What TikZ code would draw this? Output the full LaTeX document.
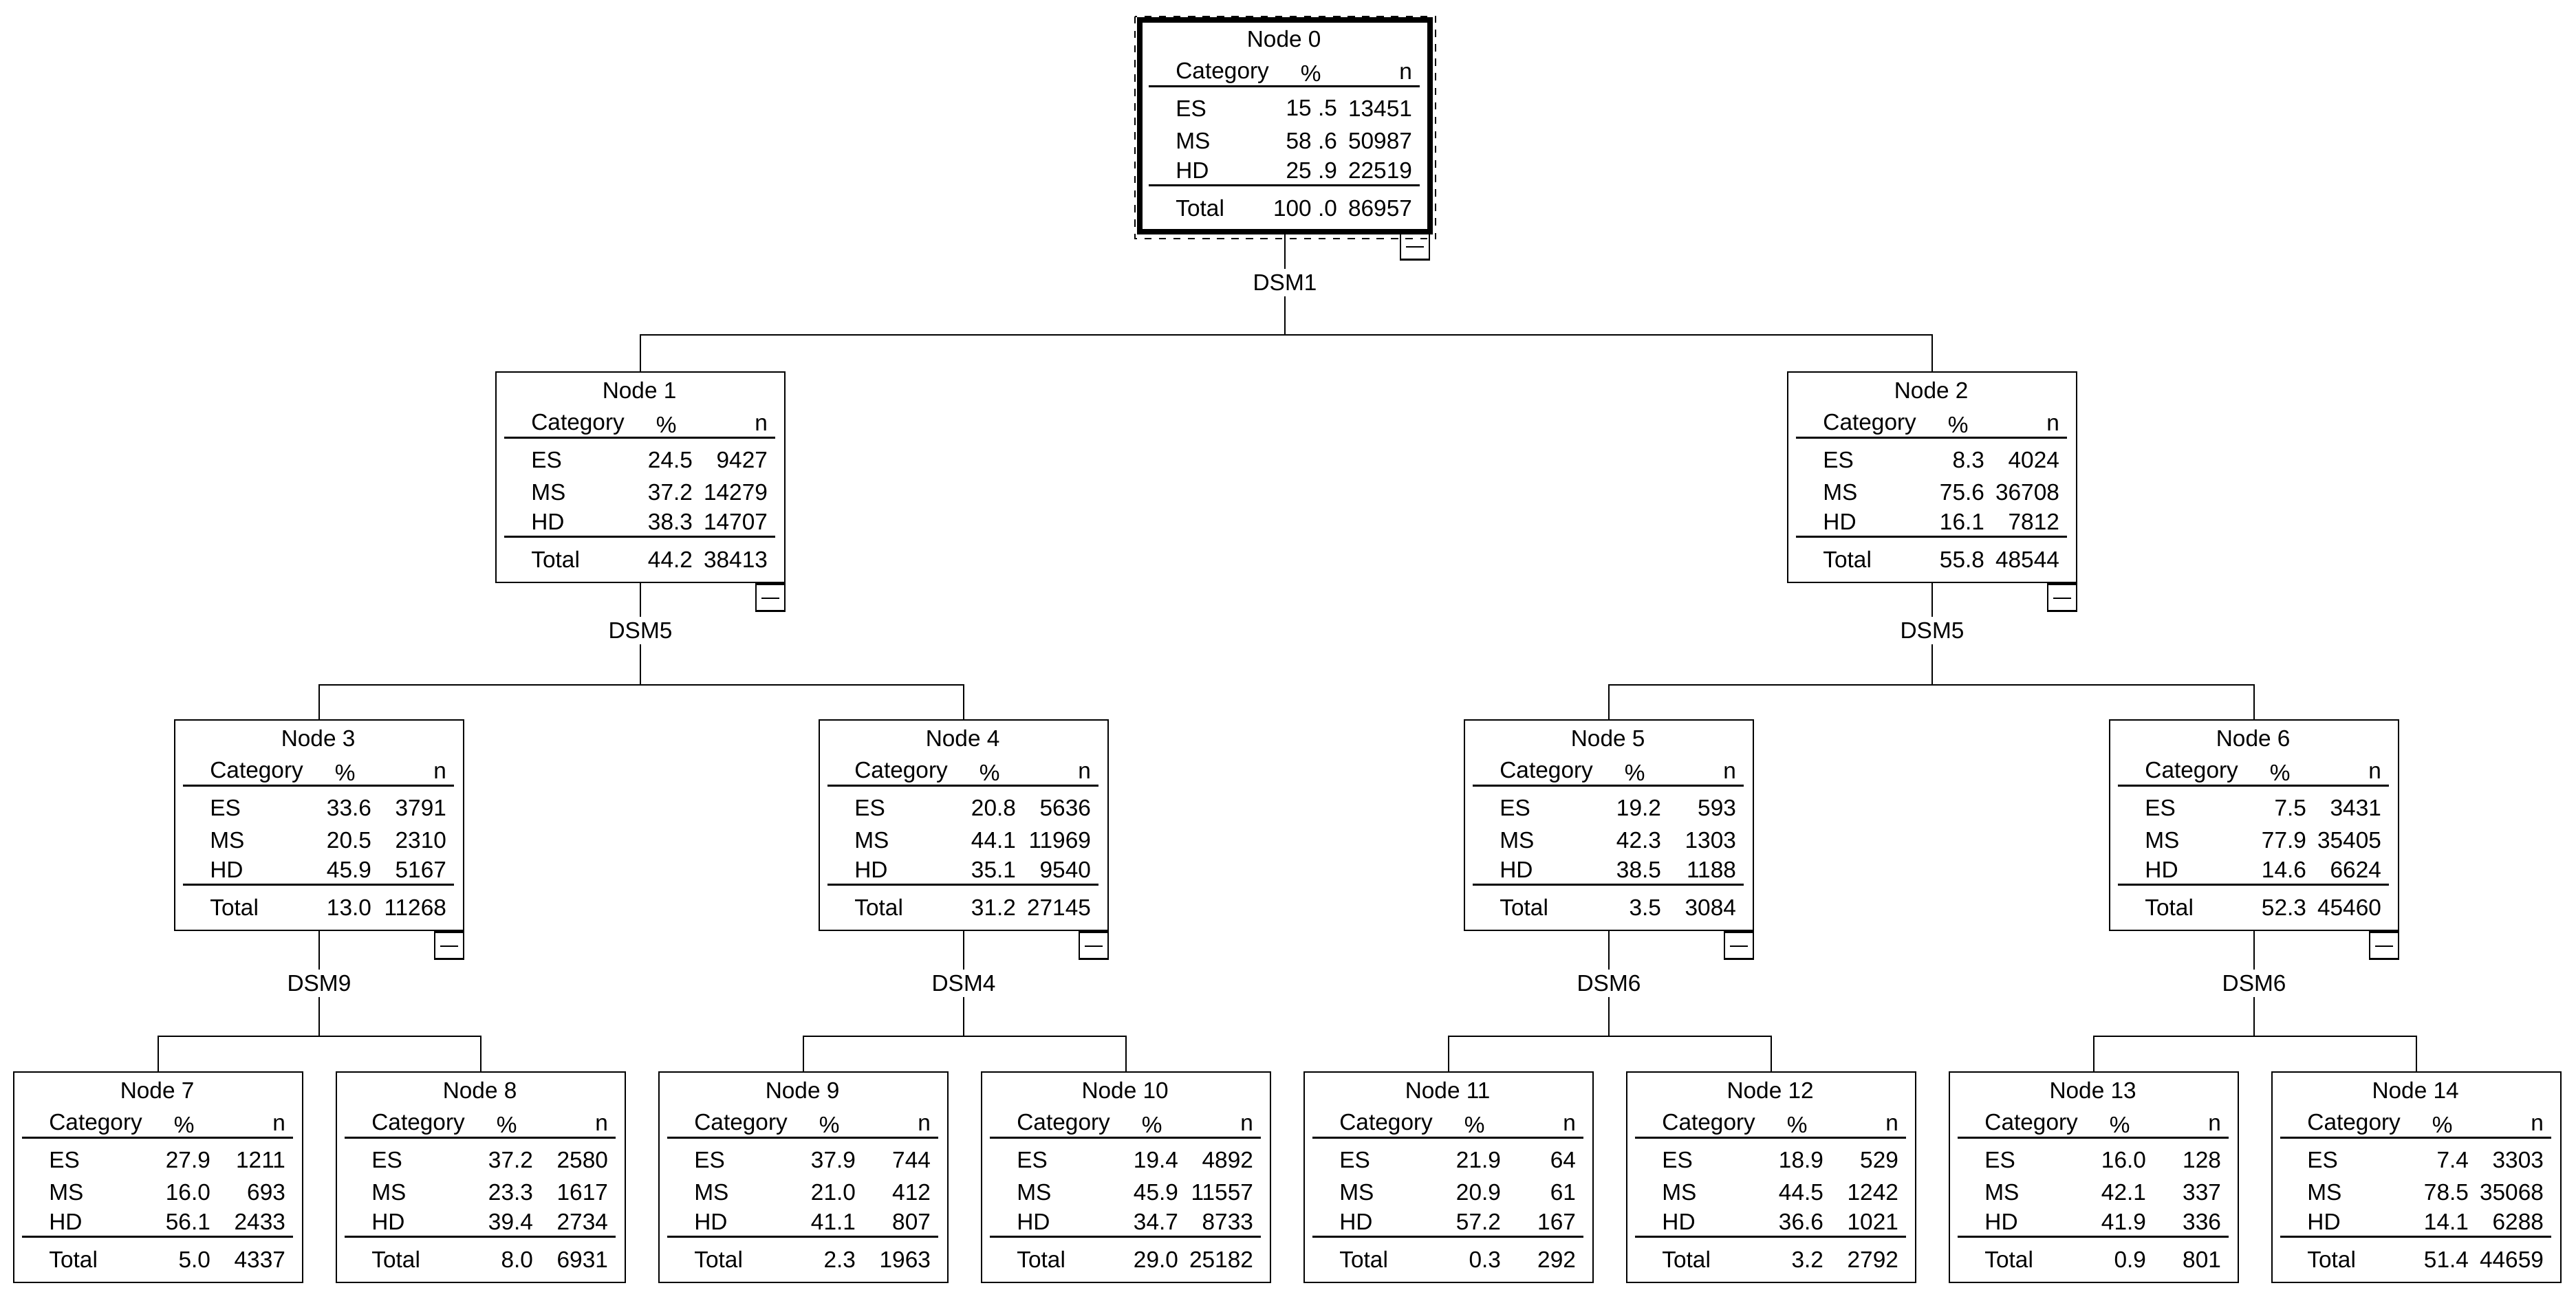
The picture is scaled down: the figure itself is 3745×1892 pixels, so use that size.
\documentclass[tikz,border=0pt]{standalone}
\usepackage{fontspec}
\setmainfont{Liberation Sans}
\begin{document}
\begin{tikzpicture}[x=0.01cm,y=0.01cm,
  box/.style={draw,line width=0.7pt,minimum width=4.2cm,minimum height=3.06cm,inner sep=0pt},
  txt/.style={inner sep=0pt,font=\fontsize{9.5pt}{11pt}\selectfont},
  lbl/.style={inner sep=2pt,font=\fontsize{9.5pt}{11pt}\selectfont},
  mbox/.style={draw,line width=0.7pt,minimum width=0.42cm,minimum height=0.39cm,inner sep=0pt,anchor=north east},
  conn/.style={line width=0.7pt}]
\useasboundingbox (0,0) rectangle (3745,-1892);
\newcommand\tnode[4]{%
  \node[box] (#1) at (#2,#3) {};
  \begin{scope}[shift={(#1.north west)}]
    \node[txt] at (210,-28) {#4};
    \node[txt,anchor=west] at (52,-78) {Category};
    \node[txt] at (249,-78) {\%};
    \node[txt,anchor=east] at (397,-78) {n};
    \draw[line width=0.7pt] (13,-97) -- (407,-97);
    \draw[line width=0.7pt] (13,-241) -- (407,-241);
    \node[txt,anchor=west] at (52,-129) {ES};
    \node[txt,anchor=west] at (52,-176) {MS};
    \node[txt,anchor=west] at (52,-219) {HD};
    \node[txt,anchor=west] at (52,-274) {Total};
  \end{scope}}
\newcommand\tvals[9]{%
  \begin{scope}[shift={(#1.north west)}]
    \node[txt,anchor=east] at (288,-129) {#2};
    \node[txt,anchor=east] at (397,-129) {#3};
    \node[txt,anchor=east] at (288,-176) {#4};
    \node[txt,anchor=east] at (397,-176) {#5};
    \node[txt,anchor=east] at (288,-219) {#6};
    \node[txt,anchor=east] at (397,-219) {#7};
    \node[txt,anchor=east] at (288,-274) {#8};
    \node[txt,anchor=east] at (397,-274) {#9};
  \end{scope}}
\newcommand\minusbox[1]{%
  \node[mbox] (#1m) at (#1.south east) {};
  \draw[line width=0.7pt] ([xshift=-0.09cm,yshift=0.2cm]#1m.south east) -- ([xshift=0.09cm,yshift=0.2cm]#1m.south west);}
% root
\tnode{n0}{1868}{-183}{Node 0}
\tvals{n0}{15 .5}{13451}{58 .6}{50987}{25 .9}{22519}{100 .0}{86957}
\draw[line width=2.3pt] (n0.south west) rectangle (n0.north east);
\draw[dashed,line width=0.6pt] ([shift={(-7,5)}]n0.north west) rectangle ([shift={(8,-10)}]n0.south east);
\minusbox{n0}
% level 1
\tnode{n1}{931}{-694}{Node 1}
\tvals{n1}{24.5}{9427}{37.2}{14279}{38.3}{14707}{44.2}{38413}
\minusbox{n1}
\tnode{n2}{2809}{-694}{Node 2}
\tvals{n2}{8.3}{4024}{75.6}{36708}{16.1}{7812}{55.8}{48544}
\minusbox{n2}
% level 2
\tnode{n3}{464}{-1200}{Node 3}
\tvals{n3}{33.6}{3791}{20.5}{2310}{45.9}{5167}{13.0}{11268}
\minusbox{n3}
\tnode{n4}{1401}{-1200}{Node 4}
\tvals{n4}{20.8}{5636}{44.1}{11969}{35.1}{9540}{31.2}{27145}
\minusbox{n4}
\tnode{n5}{2339}{-1200}{Node 5}
\tvals{n5}{19.2}{593}{42.3}{1303}{38.5}{1188}{3.5}{3084}
\minusbox{n5}
\tnode{n6}{3277}{-1200}{Node 6}
\tvals{n6}{7.5}{3431}{77.9}{35405}{14.6}{6624}{52.3}{45460}
\minusbox{n6}
% level 3
\tnode{n7}{230}{-1712}{Node 7}
\tvals{n7}{27.9}{1211}{16.0}{693}{56.1}{2433}{5.0}{4337}
\tnode{n8}{699}{-1712}{Node 8}
\tvals{n8}{37.2}{2580}{23.3}{1617}{39.4}{2734}{8.0}{6931}
\tnode{n9}{1168}{-1712}{Node 9}
\tvals{n9}{37.9}{744}{21.0}{412}{41.1}{807}{2.3}{1963}
\tnode{n10}{1637}{-1712}{Node 10}
\tvals{n10}{19.4}{4892}{45.9}{11557}{34.7}{8733}{29.0}{25182}
\tnode{n11}{2106}{-1712}{Node 11}
\tvals{n11}{21.9}{64}{20.9}{61}{57.2}{167}{0.3}{292}
\tnode{n12}{2575}{-1712}{Node 12}
\tvals{n12}{18.9}{529}{44.5}{1242}{36.6}{1021}{3.2}{2792}
\tnode{n13}{3044}{-1712}{Node 13}
\tvals{n13}{16.0}{128}{42.1}{337}{41.9}{336}{0.9}{801}
\tnode{n14}{3513}{-1712}{Node 14}
\tvals{n14}{7.4}{3303}{78.5}{35068}{14.1}{6288}{51.4}{44659}
% connectors
\node[lbl] (l0) at (1868,-411) {DSM1};
\coordinate (b0) at (1868,-487);
\draw[conn] (n0.south) -- (l0.north);
\draw[conn] (l0.south) -- (b0);
\draw[conn] (n1.north) |- (b0) -| (n2.north);
\node[lbl] (l1) at (931,-917) {DSM5};
\coordinate (b1) at (931,-996);
\draw[conn] (n1.south) -- (l1.north); \draw[conn] (l1.south) -- (b1);
\draw[conn] (n3.north) |- (b1) -| (n4.north);
\node[lbl] (l2) at (2809,-917) {DSM5};
\coordinate (b2) at (2809,-996);
\draw[conn] (n2.south) -- (l2.north); \draw[conn] (l2.south) -- (b2);
\draw[conn] (n5.north) |- (b2) -| (n6.north);
\node[lbl] (l3) at (464,-1430) {DSM9};
\coordinate (b3) at (464,-1507);
\draw[conn] (n3.south) -- (l3.north); \draw[conn] (l3.south) -- (b3);
\draw[conn] (n7.north) |- (b3) -| (n8.north);
\node[lbl] (l4) at (1401,-1430) {DSM4};
\coordinate (b4) at (1401,-1507);
\draw[conn] (n4.south) -- (l4.north); \draw[conn] (l4.south) -- (b4);
\draw[conn] (n9.north) |- (b4) -| (n10.north);
\node[lbl] (l5) at (2339,-1430) {DSM6};
\coordinate (b5) at (2339,-1507);
\draw[conn] (n5.south) -- (l5.north); \draw[conn] (l5.south) -- (b5);
\draw[conn] (n11.north) |- (b5) -| (n12.north);
\node[lbl] (l6) at (3277,-1430) {DSM6};
\coordinate (b6) at (3277,-1507);
\draw[conn] (n6.south) -- (l6.north); \draw[conn] (l6.south) -- (b6);
\draw[conn] (n13.north) |- (b6) -| (n14.north);
\end{tikzpicture}
\end{document}
